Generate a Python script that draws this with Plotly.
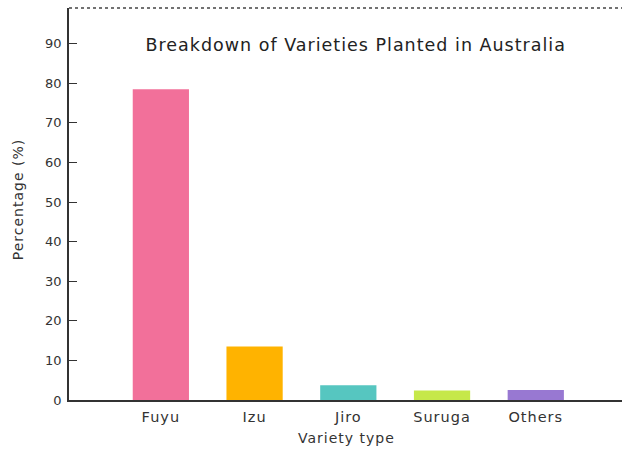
import plotly.graph_objects as go

categories = ["Fuyu", "Izu", "Jiro", "Suruga", "Others"]
values = [78.5, 13.5, 3.7, 2.4, 2.5]
colors = ["#f2709a", "#ffb300", "#56c6c0", "#c6e84a", "#9878d2"]
y_ticks = [0, 10, 20, 30, 40, 50, 60, 70, 80, 90]

font = "DejaVu Sans, Verdana, sans-serif"

fig = go.Figure(go.Bar(
    x=categories, y=values, width=0.6,
    marker=dict(color=colors, line=dict(width=0)),
))

fig.update_layout(
    width=622, height=451,
    margin=dict(l=69, r=0, t=8, b=51),
    plot_bgcolor="white", paper_bgcolor="white",
    showlegend=False,
    font=dict(family=font, size=13, color="#333333"),
    xaxis=dict(range=[-0.98, 4.92], showline=True, linecolor="#333333", linewidth=1.5,
               ticks="", showgrid=False, zeroline=False,
               tickfont=dict(size=14.5, color="#333333"), ticklabelstandoff=3),
    yaxis=dict(range=[0, 99], tickvals=y_ticks, showline=True, linecolor="#333333",
               linewidth=1.5, ticks="inside", ticklen=8, tickcolor="#333333",
               showgrid=False, zeroline=False, tickfont=dict(size=13, color="#333333"),
               ticklabelstandoff=3),
    shapes=[dict(type="line", xref="paper", yref="paper", x0=0, x1=1, y0=1, y1=1,
                 line=dict(color="#444444", width=1.5, dash="dot"))],
    annotations=[
        dict(text="Breakdown of Varieties Planted in Australia", xref="paper", yref="paper",
             x=0.518, y=0.905, showarrow=False, xanchor="center", yanchor="middle",
             font=dict(size=17.5, color="#222222")),
        dict(text="Variety type", xref="paper", yref="paper", x=0.502, y=-0.098,
             showarrow=False, xanchor="center", yanchor="middle",
             font=dict(size=14, color="#333333")),
        dict(text="Percentage (%)", xref="paper", yref="paper", x=-0.092, y=0.51,
             textangle=-90, showarrow=False, xanchor="center", yanchor="middle",
             font=dict(size=14, color="#333333")),
    ],
)

post = """
document.body.style.margin='0';
document.querySelectorAll('.annotation-text, .xtick text').forEach(function(t){
  t.style.letterSpacing='1px';
});
"""

fig.write_html("out.html", config={"displayModeBar": False}, post_script=post)
